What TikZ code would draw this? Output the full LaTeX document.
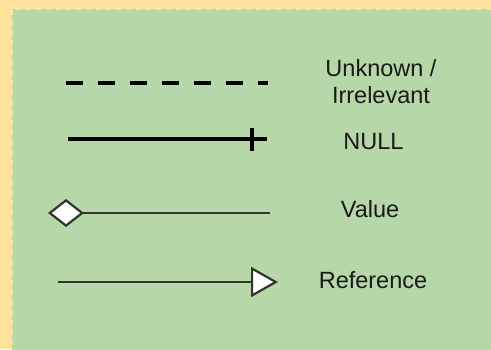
\documentclass[tikz,border=0pt]{standalone}
\usepackage{fontspec}
\setmainfont{Liberation Sans}
\usetikzlibrary{arrows.meta}
\definecolor{bgyellow}{HTML}{FFE29C}
\definecolor{panelgreen}{HTML}{B6D7A8}
\definecolor{linegray}{HTML}{333333}
\tikzset{
  lbl/.style={anchor=base, inner sep=0pt, font=\fontsize{23.5}{27}\selectfont, text=black!90, align=center},
  thickline/.style={line width=3.5pt, black},
  thinline/.style={line width=2.6pt, linegray},
}
\begin{document}
\begin{tikzpicture}[x=1pt, y=-1pt]
\fill[bgyellow] (0,0) rectangle (491,349);
\useasboundingbox (0,0) rectangle (491,349);
\fill[panelgreen] (12,9) rectangle (495,355);
\draw[bgyellow, line width=2pt, dash pattern=on 5pt off 5pt] (12,355) -- (12,9) -- (495,9);
% Unknown
\coordinate (u1) at (66,83);
\coordinate (u2) at (268,83);
\draw[thickline, dash pattern=on 17pt off 15pt] (u1) -- (u2);
\node[lbl] (tu) at (381,76) {Unknown /};
\node[lbl] (ti) at (381,103) {Irrelevant};
% NULL
\coordinate (n1) at (68,139);
\coordinate (n2) at (267,139);
\coordinate (nt) at (252,139);
\draw[thickline] (n1) -- (n2);
\draw[thickline] ([yshift=-12pt]nt) -- ([yshift=11pt]nt);
\node[lbl] (tn) at (373.5,149) {NULL};
% Value
\coordinate (v1) at (48,213);
\coordinate (v2) at (270,213);
\draw[thinline, {Diamond[length=36pt, width=28pt, fill=white, line width=2.2pt]}-] (v1) -- (v2);
\node[lbl] (tv) at (370,217) {Value};
% Reference
\coordinate (r1) at (58,282);
\coordinate (r2) at (278,282);
\draw[thinline, -{Triangle[length=27pt, width=30pt, fill=white, line width=2.2pt]}] (r1) -- (r2);
\node[lbl] (tr) at (373,288) {Reference};
\end{tikzpicture}
\end{document}
